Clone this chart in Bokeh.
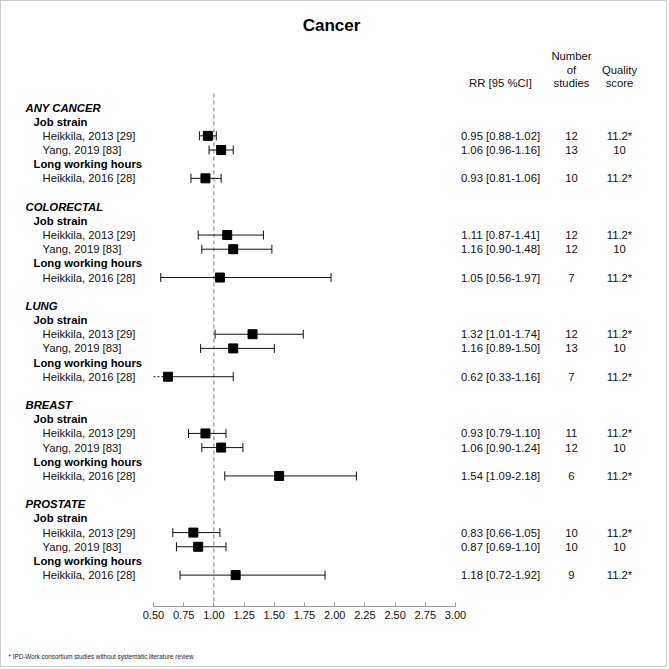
import math
from bokeh.plotting import figure
from bokeh.models import Range1d, LinearAxis, FixedTicker, Title
from bokeh.core.properties import value
from bokeh.embed import file_html
from bokeh.resources import INLINE

# ---------------- data ----------------
sections = ["ANY CANCER", "COLORECTAL", "LUNG", "BREAST", "PROSTATE"]
exposures = ["Job strain", "Long working hours"]
studies_job = ["Heikkila, 2013 [29]", "Yang, 2019 [83]"]
studies_lwh = ["Heikkila, 2016 [28]"]

# order: per section -> Heikkila 2013, Yang 2019, Heikkila 2016
rr = [0.95, 1.06, 0.93,
      1.11, 1.16, 1.05,
      1.32, 1.16, 0.62,
      0.93, 1.06, 1.54,
      0.83, 0.87, 1.18]
lo = [0.88, 0.96, 0.81,
      0.87, 0.90, 0.56,
      1.01, 0.89, 0.33,
      0.79, 0.90, 1.09,
      0.66, 0.69, 0.72]
hi = [1.02, 1.16, 1.06,
      1.41, 1.48, 1.97,
      1.74, 1.50, 1.16,
      1.10, 1.24, 2.18,
      1.05, 1.10, 1.92]
n_studies = [12, 13, 10,
             12, 12, 7,
             12, 13, 7,
             11, 12, 6,
             10, 10, 9]
quality = ["11.2*", "10", "11.2*",
           "11.2*", "10", "11.2*",
           "11.2*", "10", "11.2*",
           "11.2*", "10", "11.2*",
           "11.2*", "10", "11.2*"]

tick_values = [0.50, 0.75, 1.00, 1.25, 1.50, 1.75, 2.00, 2.25, 2.50, 2.75, 3.00]
axis_min, axis_max = 0.50, 3.00
title_text = "Cancer"
footnote = "* IPD-Work consortium studies without systematic literature review"
col_headers = ["RR [95 %CI]", "Number\nof\nstudies", "Quality\nscore"]

# ---------------- layout of rows ----------------
sec_rows, sec_lab = [], []
exp_rows, exp_lab = [], []
st_rows, st_lab = [], []
k = 0
for s in sections:
    sec_rows.append(k); sec_lab.append(s); k += 1
    exp_rows.append(k); exp_lab.append(exposures[0]); k += 1
    for st in studies_job:
        st_rows.append(k); st_lab.append(st); k += 1
    exp_rows.append(k); exp_lab.append(exposures[1]); k += 1
    for st in studies_lwh:
        st_rows.append(k); st_lab.append(st); k += 1
    k += 1  # blank row

FONT = "Liberation Sans"
FS = "11.3px"

p = figure(width=667, height=667, output_backend="svg", toolbar_location=None,
           x_range=Range1d(-0.7003, 4.7053), y_range=Range1d(35.215, -6.987),
           min_border_left=7, min_border_right=7, min_border_top=7,
           min_border_bottom=62, x_axis_type=None, y_axis_type=None)
p.styles = {"border": "1px solid #cccccc"}
p.xgrid.visible = False
p.ygrid.visible = False
p.outline_line_color = None
p.background_fill_color = "white"
p.border_fill_color = "white"

# x axis (bounded)
ax = LinearAxis(ticker=FixedTicker(ticks=tick_values), bounds=(axis_min, axis_max))
ax.axis_line_color = "#9a9a9a"
ax.major_tick_line_color = "#9a9a9a"
ax.major_tick_in = 4
ax.major_tick_out = 0
ax.minor_tick_line_color = None
ax.major_label_text_font = FONT
ax.major_label_text_font_size = "11px"
ax.major_label_text_color = "#111111"
ax.major_label_standoff = 4
ax.major_label_overrides = {v: f"{v:.2f}" for v in tick_values}
p.add_layout(ax, "below")

spacer = Title(text=" ", text_font_size="1px", standoff=26)
p.add_layout(spacer, "below")
fn = Title(text=footnote, align="left", text_font=FONT, text_font_size="6.3px",
           text_font_style="normal", text_color="#222222", offset=0, standoff=0)
p.add_layout(fn, "below")

# reference line at RR = 1
p.segment(x0=[1.0], y0=[-0.99], x1=[1.0], y1=[35.215], line_color="#7a7a7a",
          line_dash="4 3", line_width=1)

# CI lines
solid_x0, solid_x1, ys = [], [], []
dash_x0, dash_x1, dash_y = [], [], []
cap_x, cap_y = [], []
for i in range(len(rr)):
    y = st_rows[i]
    if lo[i] < axis_min:
        dash_x0.append(axis_min); dash_x1.append(rr[i]); dash_y.append(y)
        solid_x0.append(rr[i])
    else:
        solid_x0.append(lo[i])
        cap_x.append(lo[i]); cap_y.append(y)
    solid_x1.append(hi[i]); ys.append(y)
    cap_x.append(hi[i]); cap_y.append(y)

p.segment(x0=solid_x0, y0=ys, x1=solid_x1, y1=ys, line_color="#111111", line_width=1)
if dash_x0:
    p.segment(x0=dash_x0, y0=dash_y, x1=dash_x1, y1=dash_y, line_color="#111111",
              line_width=1, line_dash="2 2")
p.scatter(x=cap_x, y=cap_y, marker="dash", angle=math.pi / 2, size=9,
          line_color="#111111", line_width=1)
p.scatter(x=rr, y=st_rows, marker="square", size=9, fill_color="black",
          line_color="black")

# left labels
p.text(x=[-0.5596] * len(sec_rows), y=sec_rows, text=sec_lab, text_font=value(FONT),
       text_font_size=FS, text_font_style="bold italic", text_baseline="middle",
       text_align="left", text_color="black")
p.text(x=[-0.4934] * len(exp_rows), y=exp_rows, text=exp_lab, text_font=value(FONT),
       text_font_size=FS, text_font_style="bold", text_baseline="middle",
       text_align="left", text_color="black")
p.text(x=[-0.4189] * len(st_rows), y=st_rows, text=st_lab, text_font=value(FONT),
       text_font_size=FS, text_baseline="middle", text_align="left", text_color="#111111")

# right columns
rr_txt = [f"{r:.2f} [{l:.2f}-{h:.2f}]" for r, l, h in zip(rr, lo, hi)]
p.text(x=[3.3725] * len(st_rows), y=st_rows, text=rr_txt, text_font=value(FONT),
       text_font_size=FS, text_baseline="middle", text_align="center", text_color="#111111")
p.text(x=[3.960] * len(st_rows), y=st_rows, text=[str(n) for n in n_studies],
       text_font=value(FONT), text_font_size=FS, text_baseline="middle",
       text_align="center", text_color="#111111")
p.text(x=[4.3576] * len(st_rows), y=st_rows, text=quality, text_font=value(FONT),
       text_font_size=FS, text_baseline="middle", text_align="center", text_color="#111111")

# column headers
hdr_x = [3.3725, 3.960, 4.3576]
hx, hy, ht = [], [], []
for cx, h in zip(hdr_x, col_headers):
    lines = h.split("\n")
    for j, ln in enumerate(lines):
        hx.append(cx)
        hy.append(-1.7 - 0.95 * (len(lines) - 1 - j))
        ht.append(ln)
p.text(x=hx, y=hy, text=ht, text_font=value(FONT), text_font_size=FS,
       text_baseline="middle", text_align="center", text_color="#111111")

# title
p.text(x=[1.9735], y=[-5.76], text=[title_text], text_font=value(FONT),
       text_font_size="17px", text_font_style="bold", text_baseline="middle",
       text_align="center", text_color="black")

open("out.html", "w").write(file_html(p, INLINE))
